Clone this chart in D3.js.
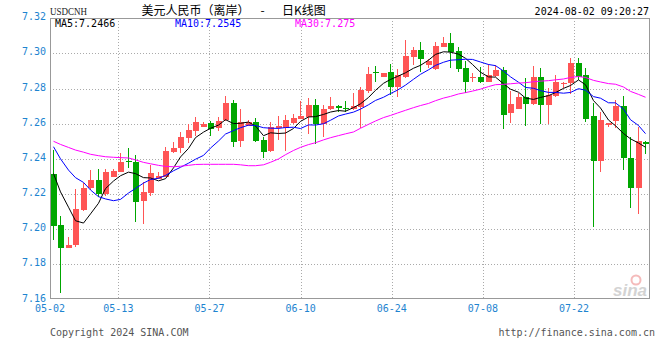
<!DOCTYPE html>
<html>
<head>
<meta charset="utf-8">
<script src="https://cdn.jsdelivr.net/npm/d3@7"></script>
<style>
body { margin: 0; background: #fff; }
svg text { font-family: "DejaVu Sans Mono", monospace; }
</style>
</head>
<body>
<div id="chart"></div>
<script>
// daily bars, USDCNH (sina forex days incl. saturday)
var dates = ["05-02","05-03","05-04","05-06","05-07","05-08","05-09","05-10","05-11","05-13",
  "05-14","05-15","05-16","05-17","05-18","05-20","05-21","05-22","05-23","05-24",
  "05-25","05-27","05-28","05-29","05-30","05-31","06-01","06-03","06-04","06-05",
  "06-06","06-07","06-08","06-10","06-11","06-12","06-13","06-14","06-15","06-17",
  "06-18","06-19","06-20","06-21","06-22","06-24","06-25","06-26","06-27","06-28",
  "06-29","07-01","07-02","07-03","07-04","07-05","07-06","07-08","07-09","07-10",
  "07-11","07-12","07-13","07-15","07-16","07-17","07-18","07-19","07-20","07-22",
  "07-23","07-24","07-25","07-26","07-27","07-29","07-30","07-31","08-01","08-02"];

var openP = [7.2314,7.2024,7.1895,7.1910,7.2109,7.2232,7.2280,7.2198,7.2299,7.2325,
  7.2386,7.2384,7.2162,7.2208,7.2285,7.2299,7.2441,7.2459,7.2520,7.2558,
  7.2583,7.2604,7.2577,7.2621,7.2718,7.2503,7.2589,7.2608,7.2505,7.2445,
  7.2576,7.2577,7.2602,7.2627,7.2636,7.2706,7.2598,7.2685,7.2700,7.2689,
  7.2683,7.2696,7.2787,7.2893,7.2867,7.2894,7.2810,7.2867,7.2981,7.3019,
  7.2935,7.2909,7.3038,7.3059,7.3013,7.2916,7.2862,7.2867,7.2838,7.2873,
  7.2905,7.2662,7.2685,7.2752,7.2712,7.2865,7.2706,7.2759,7.2827,7.2833,
  7.2947,7.2877,7.2643,7.2388,7.2594,7.2615,7.2702,7.2406,7.2236,7.2497];
var highP = [7.2450,7.2075,7.1955,7.2228,7.2264,7.2336,7.2342,7.2342,7.2340,7.2433,
  7.2462,7.2422,7.2266,7.2365,7.2327,7.2467,7.2498,7.2555,7.2598,7.2640,
  7.2612,7.2617,7.2640,7.2759,7.2735,7.2683,7.2619,7.2630,7.2526,7.2608,
  7.2645,7.2649,7.2655,7.2731,7.2744,7.2740,7.2706,7.2751,7.2706,7.2729,
  7.2773,7.2810,7.2922,7.2926,7.2888,7.2937,7.2909,7.3076,7.3036,7.3064,
  7.2970,7.3063,7.3091,7.3115,7.3036,7.2956,7.2886,7.2924,7.2937,7.2933,
  7.2924,7.2786,7.2776,7.2861,7.2928,7.2918,7.2801,7.2875,7.2838,7.2973,
  7.2973,7.2918,7.2716,7.2665,7.2606,7.2734,7.2759,7.2526,7.2583,7.2500];
var lowP = [7.1938,7.1639,7.1893,7.1900,7.2105,7.2225,7.2185,7.2190,7.2297,7.2323,
  7.2350,7.2038,7.2031,7.2191,7.2283,7.2297,7.2435,7.2435,7.2488,7.2530,
  7.2581,7.2530,7.2558,7.2617,7.2465,7.2469,7.2588,7.2498,7.2403,7.2441,
  7.2507,7.2447,7.2600,7.2625,7.2541,7.2482,7.2526,7.2678,7.2664,7.2664,
  7.2678,7.2574,7.2776,7.2835,7.2866,7.2763,7.2753,7.2858,7.2933,7.2895,
  7.2915,7.2905,7.3035,7.2915,7.2895,7.2773,7.2835,7.2829,7.2835,7.2867,
  7.2570,7.2602,7.2682,7.2588,7.2706,7.2600,7.2600,7.2753,7.2805,7.2769,
  7.2848,7.2608,7.2014,7.2327,7.2581,7.2577,7.2336,7.2122,7.2086,7.2427];
var closeP = [7.2020,7.1895,7.1910,7.2115,7.2234,7.2280,7.2198,7.2327,7.2331,7.2384,
  7.2382,7.2156,7.2213,7.2321,7.2302,7.2444,7.2463,7.2524,7.2564,7.2609,
  7.2600,7.2572,7.2615,7.2718,7.2498,7.2608,7.2608,7.2503,7.2441,7.2581,
  7.2588,7.2621,7.2632,7.2644,7.2706,7.2598,7.2683,7.2700,7.2687,7.2687,
  7.2700,7.2791,7.2881,7.2890,7.2886,7.2810,7.2877,7.2985,7.3019,7.2969,
  7.2956,7.3042,7.3059,7.3009,7.2912,7.2838,7.2866,7.2838,7.2877,7.2905,
  7.2649,7.2712,7.2752,7.2712,7.2865,7.2706,7.2763,7.2839,7.2831,7.2947,
  7.2864,7.2626,7.2388,7.2621,7.2604,7.2702,7.2406,7.2236,7.2503,7.2483];

// moving averages before the window is full (earlier data not shown)
var ma5Head = [7.2316,7.2212,7.2125,7.2048];
var ma10Head = [7.2469,7.2400,7.2336,7.2293,7.2266,7.2223,7.2185,7.2172,7.2162];
var ma30Head = [7.2500,7.2482,7.2465,7.2450,7.2438,7.2426,7.2418,7.2412,7.2409,7.2407,
  7.2405,7.2394,7.2380,7.2372,7.2363,7.2357,7.2355,7.2358,7.2363,7.2368,
  7.2369,7.2369,7.2369,7.2369,7.2369,7.2366,7.2361,7.2361,7.2366];

var tickDates = ["05-02","05-13","05-27","06-10","06-24","07-08","07-22"];
var yTicks = [7.16,7.18,7.20,7.22,7.24,7.26,7.28,7.30,7.32];
var maLabels = ["MA5:7.2466","MA10:7.2545","MA30:7.275"];
var maColors = ["#000000","#0000ff","#ff00ff"];

function movingAvg(n, head){
  return closeP.map(function(c, i){
    if(i < n - 1) return head[i];
    return d3.mean(closeP.slice(i - n + 1, i + 1));
  });
}

function drawChart(){
  var W = 660, H = 360;
  var left = 50, right = 649, top = 18, bottom = 298;

  var svg = d3.select("#chart").append("svg").attr("width", W).attr("height", H);

  var n = dates.length;
  // bars use n slots, grid lines use n-1 steps (as in the sina image)
  var x = d3.scaleLinear().domain([0, n]).range([50, 650]);
  var xg = d3.scaleLinear().domain([0, n - 1]).range([50, 650]);
  var y = d3.scaleLinear().domain([7.16, 7.32]).range([299.5, 18.2]);

  var grid = svg.append("g").attr("stroke", "#aaa").attr("stroke-dasharray", "1,2").attr("shape-rendering", "crispEdges");
  grid.selectAll("line.h")
    .data(yTicks.filter(function(v){ return v > 7.165 && v < 7.315; }))
    .join("line").attr("class", "h")
      .attr("x1", left).attr("x2", right)
      .attr("y1", d => Math.round(y(d)) + 0.5).attr("y2", d => Math.round(y(d)) + 0.5);
  grid.selectAll("line.v")
    .data(tickDates.slice(1))
    .join("line").attr("class", "v")
      .attr("x1", d => Math.round(xg(dates.indexOf(d))) + 0.5).attr("x2", d => Math.round(xg(dates.indexOf(d))) + 0.5)
      .attr("y1", top).attr("y2", bottom);

  // frame
  svg.append("rect")
    .attr("x", left + 0.5).attr("y", top + 0.5)
    .attr("width", right - left).attr("height", bottom - top)
    .attr("fill", "none").attr("stroke", "#999").attr("shape-rendering", "crispEdges");

  // watermark
  var wm = svg.append("g").attr("opacity", 0.9);
  wm.append("circle").attr("cx", 636).attr("cy", 280).attr("r", 4.5)
    .attr("fill", "none").attr("stroke", "#f4b4b4").attr("stroke-width", 2);
  wm.append("text").attr("x", 647).attr("y", 296).attr("text-anchor", "end")
    .style("font-family", "'Liberation Sans', sans-serif").style("font-style", "italic").style("font-weight", "bold")
    .style("font-size", "17px").attr("fill", "#cfcfcf").text("sina");

  var bars = dates.map(function(d, i){
    return {i: i, o: openP[i], h: highP[i], l: lowP[i], c: closeP[i]};
  });

  var cg = svg.append("g").attr("shape-rendering", "crispEdges");
  cg.selectAll("line")
    .data(bars)
    .join("line")
      .attr("x1", d => Math.floor(x(d.i)) + 3.5).attr("x2", d => Math.floor(x(d.i)) + 3.5)
      .attr("y1", d => y(d.h)).attr("y2", d => y(d.l))
      .attr("stroke", d => d.c >= d.o ? "#ff5555" : "#00a600");
  cg.selectAll("rect")
    .data(bars)
    .join("rect")
      .attr("x", d => Math.floor(x(d.i)) + 0.5)
      .attr("width", 6)
      .attr("y", d => y(Math.max(d.o, d.c)))
      .attr("height", d => Math.max(1, y(Math.min(d.o, d.c)) - y(Math.max(d.o, d.c))))
      .attr("fill", d => d.c >= d.o ? "#ff5555" : "#00a600");

  svg.append("clipPath").attr("id", "plotClip")
    .append("rect").attr("x", left).attr("y", top).attr("width", right - left).attr("height", bottom - top);

  var maData = [movingAvg(5, ma5Head), movingAvg(10, ma10Head), movingAvg(30, ma30Head)];
  var line = d3.line().x((d, i) => Math.floor(x(i)) + 3.5).y(d => y(d));
  svg.append("g").attr("clip-path", "url(#plotClip)")
    .selectAll("path")
    .data(maData)
    .join("path")
      .attr("d", d => line(d))
      .attr("fill", "none")
      .attr("stroke", (d, i) => maColors[i])
      .attr("stroke-width", 1);

  // y labels
  svg.append("g").selectAll("text")
    .data(yTicks)
    .join("text")
      .attr("x", 46).attr("y", d => y(d) + 2)
      .attr("text-anchor", "end")
      .attr("fill", "#1e84d0").style("font-size", "10px")
      .text(d => d.toFixed(2));

  // x labels
  svg.append("g").selectAll("text")
    .data(tickDates)
    .join("text")
      .attr("x", d => xg(dates.indexOf(d))).attr("y", 312)
      .attr("text-anchor", "middle")
      .attr("fill", "#1e84d0").style("font-size", "10px")
      .text(d => d);

  // header
  svg.append("text").attr("x", 50).attr("y", 15)
    .attr("textLength", 37).attr("lengthAdjust", "spacingAndGlyphs")
    .style("font-family", "'Liberation Serif', serif").style("font-size", "11px").attr("fill", "#222")
    .text("USDCNH");
  svg.append("text").attr("x", 141.5).attr("y", 15)
    .style("font-family", "'Noto Sans CJK SC', sans-serif").style("font-size", "12px").attr("fill", "#000")
    .text("美元人民币（离岸）");
  svg.append("text").attr("x", 262.5).attr("y", 15).attr("text-anchor", "middle")
    .style("font-family", "'Noto Sans CJK SC', sans-serif").style("font-size", "12px").attr("fill", "#000")
    .text("-");
  svg.append("text").attr("x", 282).attr("y", 15)
    .style("font-family", "'Noto Sans CJK SC', sans-serif").style("font-size", "12px").attr("fill", "#000")
    .text("日K线图");
  svg.append("text").attr("x", 649).attr("y", 15).attr("text-anchor", "end")
    .style("font-size", "10px").attr("fill", "#000")
    .text("2024-08-02 09:20:27");

  var maX = [55, 175, 295];
  svg.append("g").selectAll("text")
    .data(maLabels)
    .join("text")
      .attr("x", (d, i) => maX[i]).attr("y", 27)
      .attr("fill", (d, i) => maColors[i]).style("font-size", "10px")
      .text(d => d);

  // footer
  svg.append("text").attr("x", 50).attr("y", 336)
    .style("font-size", "10px").attr("fill", "#555")
    .text("Copyright 2024 SINA.COM");
  svg.append("text").attr("x", 655).attr("y", 336).attr("text-anchor", "end")
    .style("font-size", "10px").attr("fill", "#555")
    .text("http://finance.sina.com.cn");
}

drawChart();
</script>
</body>
</html>
